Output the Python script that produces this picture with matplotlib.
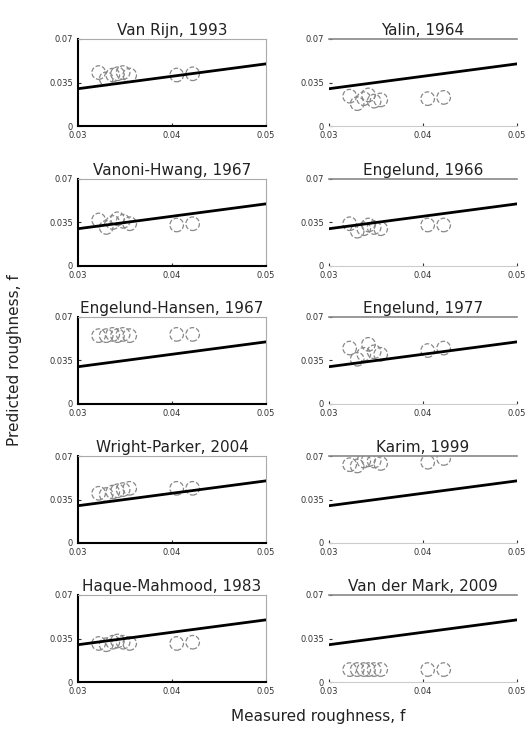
import matplotlib
matplotlib.use('Agg')
from matplotlib import pyplot as plt
import numpy as np

# measured roughness (same for every panel)
measured = [0.0322, 0.0330, 0.0337, 0.0342, 0.0348, 0.0355, 0.0405, 0.0422]

titles = ["Van Rijn, 1993", "Yalin, 1964",
          "Vanoni-Hwang, 1967", "Engelund, 1966",
          "Engelund-Hansen, 1967", "Engelund, 1977",
          "Wright-Parker, 2004", "Karim, 1999",
          "Haque-Mahmood, 1983", "Van der Mark, 2009"]

predicted = [
    [0.043, 0.038, 0.041, 0.042, 0.043, 0.041, 0.041, 0.042],   # Van Rijn
    [0.024, 0.018, 0.022, 0.025, 0.020, 0.021, 0.022, 0.023],   # Yalin
    [0.037, 0.031, 0.035, 0.038, 0.036, 0.034, 0.033, 0.034],   # Vanoni-Hwang
    [0.034, 0.028, 0.030, 0.033, 0.031, 0.030, 0.033, 0.033],   # Engelund 1966
    [0.055, 0.055, 0.056, 0.055, 0.056, 0.055, 0.056, 0.056],   # Engelund-Hansen
    [0.045, 0.036, 0.040, 0.048, 0.042, 0.040, 0.043, 0.045],   # Engelund 1977
    [0.040, 0.039, 0.041, 0.042, 0.043, 0.044, 0.044, 0.044],   # Wright-Parker
    [0.063, 0.062, 0.066, 0.067, 0.066, 0.064, 0.065, 0.068],   # Karim
    [0.031, 0.030, 0.032, 0.033, 0.032, 0.031, 0.031, 0.032],   # Haque-Mahmood
    [0.010, 0.010, 0.010, 0.010, 0.010, 0.010, 0.010, 0.010],   # Van der Mark
]

x_ticks = [0.03, 0.04, 0.05]
x_tick_labels = ["0.03", "0.04", "0.05"]
y_ticks = [0, 0.035, 0.07]
y_tick_labels = ["0", "0.035", "0.07"]
perfect = [0.03, 0.05]

fig = plt.figure(figsize=(5.32, 7.3), dpi=100)

lefts = [78, 329]
tops = [39, 179, 317, 456, 595]
ax_w, ax_h = 188, 87
W, H = 532, 730

for i, title in enumerate(titles):
    row, col = i // 2, i % 2
    left = lefts[col] / W
    bottom = 1 - (tops[row] + ax_h) / H
    ax = fig.add_axes([left, bottom, ax_w / W, ax_h / H])

    ax.plot(perfect, perfect, color='black', lw=2, zorder=3)
    ax.scatter(measured, predicted[i], s=95, facecolors='none',
               edgecolors='#888888', linestyles='--', linewidths=0.9, zorder=2)

    ax.set_xlim(0.03, 0.05)
    ax.set_ylim(0, 0.07)
    ax.set_xticks(x_ticks)
    ax.set_xticklabels(x_tick_labels)
    ax.set_yticks(y_ticks)
    ax.set_yticklabels(y_tick_labels)
    ax.tick_params(labelsize=6, length=2, direction='in', colors='#333333')
    ax.set_title(title, fontsize=11, pad=3, color='#222222')

    for side in ['top', 'right']:
        ax.spines[side].set_color('#aaaaaa')
        ax.spines[side].set_linewidth(0.8)
    if col == 0:
        ax.spines['left'].set_linewidth(1.5)
        ax.spines['bottom'].set_linewidth(1.5)
    else:
        ax.spines['left'].set_visible(False)
        ax.spines['right'].set_visible(False)
        ax.spines['bottom'].set_color('#cccccc')
        ax.spines['top'].set_linewidth(1.2)
        ax.spines['top'].set_color('#888888')

fig.text(15 / W, 1 - 360 / H, "Predicted roughness, f", rotation=90,
         ha='center', va='center', fontsize=11, color='#222222')
fig.text(318 / W, 1 - 716 / H, "Measured roughness, f",
         ha='center', va='center', fontsize=11, color='#222222')

fig.savefig('out.png', dpi=100)
